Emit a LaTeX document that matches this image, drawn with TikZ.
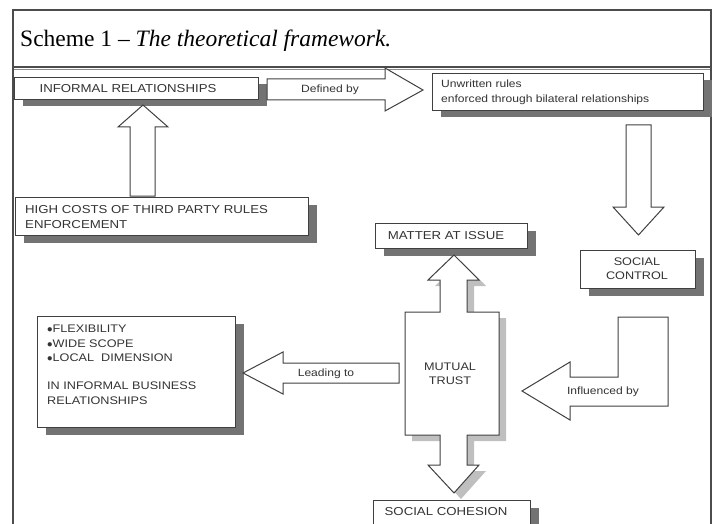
\documentclass[tikz,border=0pt]{standalone}
\usepackage{fontspec}
\setmainfont{Liberation Serif}
\newfontfamily\diag{Liberation Sans}[FakeStretch=1.15]
\usetikzlibrary{shadows}
\begin{document}
\begin{tikzpicture}[x=1pt,y=-1pt,
  box/.style={draw=black!75, line width=1pt, fill=white, inner sep=0pt, anchor=north west,
    drop shadow={shadow xshift=8pt, shadow yshift=-7pt, fill=black!55, opacity=1}},
  blk/.style={draw=black!75, line width=1pt, fill=white, line join=miter},
  lbl/.style={font=\diag\fontsize{11.5}{14.5}\selectfont, text=black!80, inner sep=0pt},
  frame/.style={draw=black!70, line width=1.1pt}]
\useasboundingbox (0,0) rectangle (715,524);
\begin{scope}
\clip (0,0) rectangle (715,524);
% title and frame
\draw[frame] (13,10) rectangle (711,67);
\node[anchor=base west, inner sep=0pt, font=\fontsize{23.5}{28}\selectfont] (title) at (20,47) {Scheme 1 -- \textit{The theoretical framework.}};
\draw[draw=black!45, line width=1pt] (13,70) -- (711,70);
\draw[frame] (13,67) -- (13,530);
\draw[frame] (711,67) -- (711,530);

% boxes
\node[box, minimum width=244pt, minimum height=22pt] (inf) at (14,77) {};
\node[lbl] (infT) at (128,89) {INFORMAL RELATIONSHIPS};

\node[box, minimum width=271pt, minimum height=37pt] (unw) at (432,73) {};
\node[lbl, anchor=west, align=left, font=\diag\fontsize{10.5}{15}\selectfont] (unwT) at (441,92.5) {Unwritten rules\\enforced through bilateral relationships};

\node[box, minimum width=115pt, minimum height=38pt] (soc) at (580,250) {};
\node[lbl, align=center, font=\diag\fontsize{11}{14}\selectfont] (socT) at (637,269) {SOCIAL\\CONTROL};

\node[box, minimum width=293pt, minimum height=38pt] (high) at (15,197) {};
\node[lbl, anchor=west, align=left, font=\diag\fontsize{11.5}{15}\selectfont] (highT) at (25,217.5) {HIGH COSTS OF THIRD PARTY RULES\\ENFORCEMENT};

\node[box, minimum width=152pt, minimum height=25pt] (mat) at (375,223) {};
\node[lbl] (matT) at (446,236) {MATTER AT ISSUE};

\node[box, minimum width=198pt, minimum height=111pt] (flex) at (37,316) {};
\node[lbl, anchor=north west, align=left, font=\diag\fontsize{11}{14.3}\selectfont] (flexT) at (47,325) {$\bullet$FLEXIBILITY\\$\bullet$WIDE SCOPE\\$\bullet$LOCAL\ \ DIMENSION\\[14.3pt]IN INFORMAL BUSINESS\\RELATIONSHIPS};

\node[box, minimum width=157pt, minimum height=30pt] (coh) at (373,500) {};
\node[lbl] (cohT) at (446,512) {SOCIAL COHESION};

% block arrows
\draw[blk] (130,196) -- (130,127) -- (118,127) -- (143,105) -- (168,127) -- (155,127) -- (155,196) -- cycle;
\draw[blk] (267,79) -- (385,79) -- (385,68) -- (423,90) -- (385,111) -- (385,100) -- (267,100) -- cycle;
\node[lbl, font=\diag\fontsize{10.5}{12}\selectfont] (defT) at (330,90) {Defined by};
\draw[blk] (626,125) -- (651,125) -- (651,207) -- (664,207) -- (638.5,235) -- (613,207) -- (626,207) -- cycle;

% mutual trust double arrow
\def\mutual{(454,255) -- (479,280) -- (467,280) -- (467,312) -- (499,312) -- (499,435) -- (467,435) -- (467,465) -- (479,465) -- (454,493) -- (428,465) -- (440,465) -- (440,435) -- (405,435) -- (405,312) -- (440,312) -- (440,280) -- (428,280) -- cycle}
\fill[black!25, shift={(7,6)}] \mutual;
\draw[blk] \mutual;
\node[lbl, align=center, font=\diag\fontsize{11}{14}\selectfont] (mutT) at (450,374) {MUTUAL\\TRUST};

\draw[blk] (399,363) -- (283,363) -- (283,352) -- (243,373) -- (283,394) -- (283,383) -- (399,383) -- cycle;
\node[lbl, font=\diag\fontsize{10.5}{12}\selectfont] (leadT) at (326,374) {Leading to};

\draw[blk] (618,317) -- (668,317) -- (668,406) -- (570,406) -- (570,420) -- (522,391) -- (570,362) -- (570,377) -- (618,377) -- cycle;
\node[lbl, font=\diag\fontsize{10.5}{12}\selectfont] (infl) at (603,392) {Influenced by};
\end{scope}
\end{tikzpicture}
\end{document}
